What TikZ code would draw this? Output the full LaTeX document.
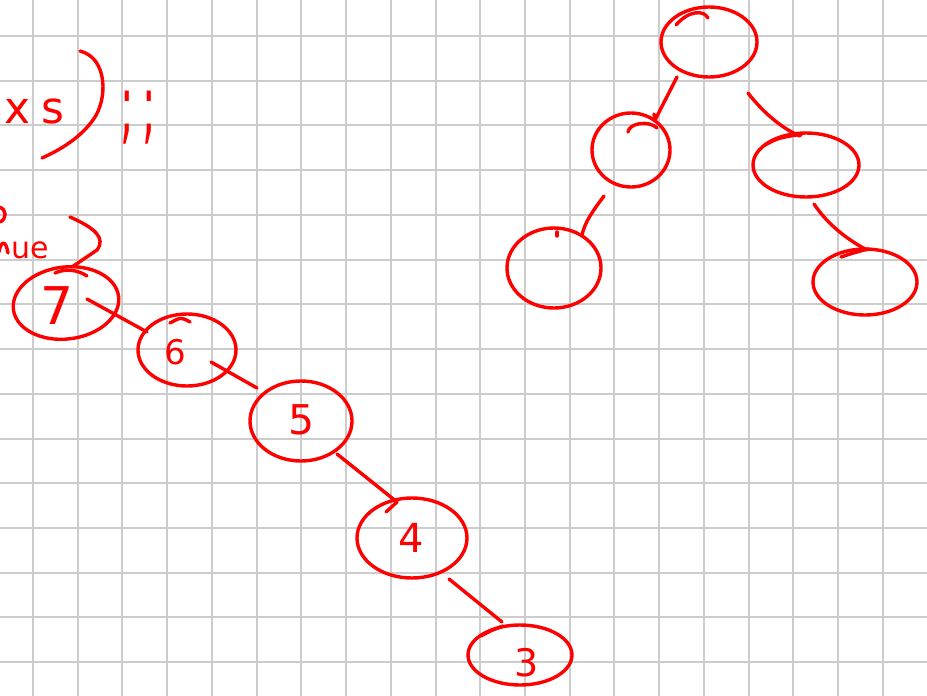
\documentclass[tikz,border=0pt]{standalone}
\usepackage{fontspec}
\setmainfont{DejaVu Sans}
\usetikzlibrary{shapes.geometric}
\definecolor{gridgray}{RGB}{204,204,204}
\definecolor{ink}{RGB}{255,0,0}
\tikzset{
  gridline/.style={draw=gridgray, line width=2pt},
  pen/.style={draw=ink, line width=3.4pt, line cap=round, line join=round},
  bubble/.style={pen, shape=ellipse, inner sep=0pt},
  writing/.style={text=ink, inner sep=0pt},
}
\newcommand{\fsz}[1]{\fontsize{#1}{#1}\selectfont}
\begin{document}
\begin{tikzpicture}[x=1pt,y=-1pt]
\useasboundingbox (0,0) rectangle (927,696);
\fill[white] (0,0) rectangle (927,696);
\clip (0,0) rectangle (927,696);
% grid paper
\foreach \k in {0,...,19} \draw[gridline] ({33+44.73*\k},0) -- ({33+44.73*\k},696);
\foreach \k in {0,...,14} \draw[gridline] (0,{36+44.73*\k}) -- (927,{36+44.73*\k});

% handwritten fragments on the left
\node[writing, font=\fsz{44}] (tx) at (18,111) {x};
\node[writing, font=\fsz{44}] (ts) at (53,111) {s};
\draw[pen] (80,51) .. controls (108,58) and (108,100) .. (93,120) .. controls (80,138) and (60,150) .. (42,158);
\node[writing, font=\fsz{40}, yscale=2.1, transform shape] (tsemi1) at (127,118) {;};
\node[writing, font=\fsz{40}, yscale=2.1, transform shape] (tsemi2) at (149,118) {;};
\draw[pen] (-1,207) .. controls (7,209) and (7,219) .. (0,222);
\draw[pen] (-1,252) .. controls (1,240) and (6,240) .. (8,253);
\node[writing, font=\fsz{30}, anchor=base west] (tue) at (11,258) {ue};

% linked list of nodes
\node[bubble, minimum width=106pt, minimum height=72pt, rotate=7] (n7) at (66,303) {};
\node[bubble, minimum width=98pt, minimum height=72pt] (n6) at (187,350) {};
\node[bubble, minimum width=102pt, minimum height=80pt] (n5) at (301,421) {};
\node[bubble, minimum width=110pt, minimum height=80pt] (n4) at (412,538) {};
\node[bubble, minimum width=104pt, minimum height=60pt] (n3) at (520,655) {};

\node[writing, font=\fsz{52}] (d7) at (57,306) {7};
\node[writing, font=\fsz{34}] (d6) at (175,352) {6};
\node[writing, font=\fsz{41}] (d5) at (302,420) {5};
\node[writing, font=\fsz{40}] (d4) at (411,538) {4};
\node[writing, font=\fsz{38}] (d3) at (527,663) {3};

% bracket leading into node 7
\draw[pen] (70,217) .. controls (95,228) and (106,238) .. (97,250) -- ([shift={(6,-36)}]n7.center);
\draw[pen] ([shift={(-11,-30)}]n7.center) .. controls ([shift={(0,-35)}]n7.center) and ([shift={(12,-33)}]n7.center) .. ([shift={(21,-27)}]n7.center);

% connectors of the list
\draw[pen] ([shift={(21,-4)}]n7.center) -- ([shift={(-40,-18)}]n6.center);
\draw[pen] ([shift={(-17,-27)}]n6.center) .. controls ([shift={(-6,-33)}]n6.center) .. ([shift={(3,-28)}]n6.center);
\draw[pen] ([shift={(24,12)}]n6.center) -- ([shift={(-44,-33)}]n5.center);
\draw[pen] ([shift={(36,33)}]n5.center) -- ([shift={(-15,-36)}]n4.center) -- ([shift={(-26,-26)}]n4.center);
\draw[pen] ([shift={(37,41)}]n4.center) -- ([shift={(-18,-33)}]n3.center);
\draw[pen] ([shift={(-39,-19)}]n3.center) .. controls ([shift={(-30,-24)}]n3.center) .. ([shift={(-17,-29)}]n3.center);

% tree on the right
\node[bubble, minimum width=96pt, minimum height=70pt] (r) at (709,42) {};
\node[bubble, minimum width=78pt, minimum height=74pt] (l) at (631,150) {};
\node[bubble, minimum width=106pt, minimum height=64pt] (rc) at (806,165) {};
\node[bubble, minimum width=94pt, minimum height=80pt] (ll) at (554,268) {};
\node[bubble, minimum width=104pt, minimum height=66pt] (rrc) at (865,282) {};

% start strokes of the tree circles
\draw[pen] ([shift={(-33,-17)}]r.center) .. controls ([shift={(-20,-32)}]r.center) and ([shift={(-5,-32)}]r.center) .. ([shift={(-1,-24)}]r.center);
\draw[pen] ([shift={(-3,-18)}]l.center) .. controls ([shift={(-2,-27)}]l.center) and ([shift={(18,-30)}]l.center) .. ([shift={(26,-22)}]l.center);
\draw[pen] ([shift={(-41,-20)}]rc.center) .. controls ([shift={(-28,-27)}]rc.center) .. ([shift={(-4,-31)}]rc.center);
\draw[pen] ([shift={(-24,-25)}]rrc.center) .. controls ([shift={(-12,-29)}]rrc.center) .. ([shift={(3,-33)}]rrc.center);
\draw[pen] ([shift={(3,-36)}]ll.center) -- ([shift={(3,-32)}]ll.center);

% tree connectors
\draw[pen] ([shift={(-32,35)}]r.center) -- ([shift={(24,-30)}]l.center) -- ([shift={(23,-36)}]l.center);
\draw[pen] ([shift={(39,51)}]r.center) .. controls ([shift={(56,73)}]r.center) and ([shift={(76,88)}]r.center) .. ([shift={(-6,-29)}]rc.center);
\draw[pen] ([shift={(-27,46)}]l.center) .. controls ([shift={(-39,62)}]l.center) and ([shift={(-46,72)}]l.center) .. ([shift={(28,-33)}]ll.center);
\draw[pen] ([shift={(8,39)}]rc.center) .. controls ([shift={(22,60)}]rc.center) and ([shift={(42,75)}]rc.center) .. ([shift={(2,-32)}]rrc.center);
\end{tikzpicture}
\end{document}
